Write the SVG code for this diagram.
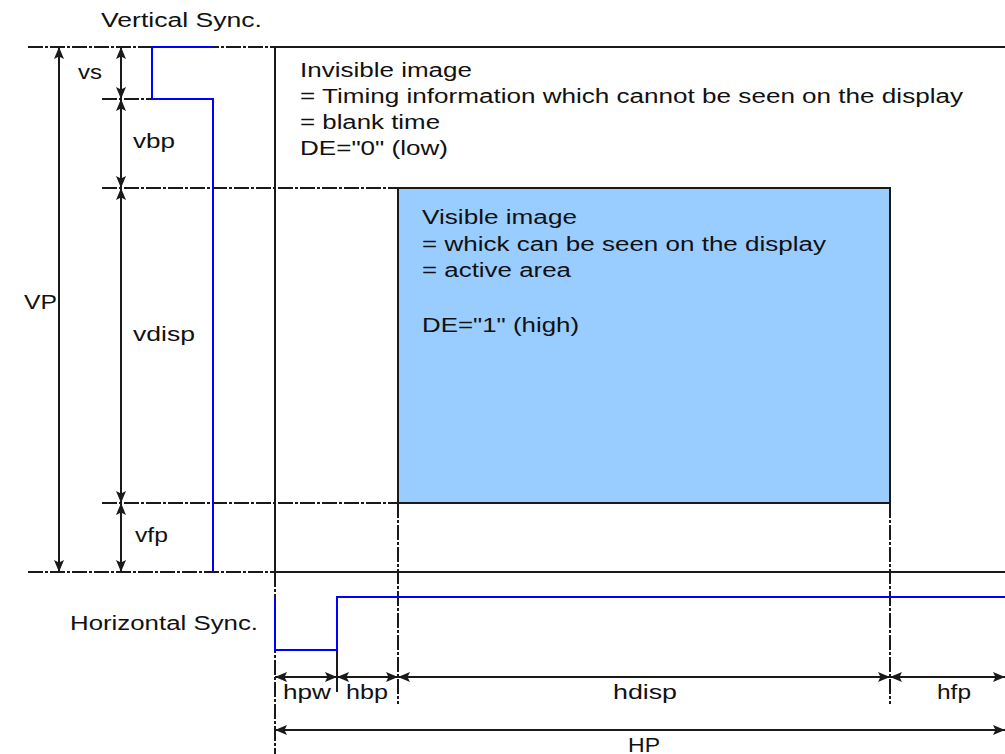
<svg xmlns="http://www.w3.org/2000/svg" width="1005" height="754" viewBox="0 0 1005 754">
<style>
text{font-family:"Liberation Sans",Arial,sans-serif;font-size:20px;fill:#111}
.dd{stroke:#1a1a1a;stroke-width:2;fill:none;stroke-dasharray:15 2 3 2}
.solid{stroke:#1a1a1a;stroke-width:2;fill:none}
.sig{stroke:#0000ff;stroke-width:2;fill:none}
.dim{stroke:#1a1a1a;stroke-width:2;fill:none;marker-start:url(#ah);marker-end:url(#ah)}
</style>
<defs>
<marker id="ah" markerUnits="userSpaceOnUse" markerWidth="12" markerHeight="10" refX="12" refY="5" orient="auto-start-reverse">
<path d="M0,0 L12,5 L0,10 L2.5,5 z" fill="#1a1a1a"/>
</marker>
</defs>
<rect width="1005" height="754" fill="#fff"/>

<g id="active-area">
<rect x="398" y="188" width="492" height="315" fill="#99ccff" stroke="#1a1a1a" stroke-width="2"/>
<text x="422" y="224" textLength="155" lengthAdjust="spacingAndGlyphs">Visible image</text>
<text x="422" y="251" textLength="404" lengthAdjust="spacingAndGlyphs">= whick can be seen on the display</text>
<text x="422" y="277" textLength="149" lengthAdjust="spacingAndGlyphs">= active area</text>
<text x="422" y="332" textLength="157" lengthAdjust="spacingAndGlyphs">DE="1" (high)</text>
</g>

<g id="grid-lines">
<line class="dd" x1="28" y1="47" x2="275" y2="47"/>
<line class="solid" x1="275" y1="47" x2="1005" y2="47"/>
<line class="dd" x1="102" y1="99" x2="152" y2="99"/>
<line class="dd" x1="102" y1="188" x2="398" y2="188"/>
<line class="dd" x1="102" y1="503" x2="398" y2="503"/>
<line class="dd" x1="28" y1="572" x2="275" y2="572"/>
<line class="solid" x1="275" y1="572" x2="1005" y2="572"/>
<line class="solid" x1="275" y1="47" x2="275" y2="572"/>
<line class="dd" x1="275" y1="572" x2="275" y2="754"/>
<line class="dd" x1="398" y1="503" x2="398" y2="704"/>
<line class="dd" x1="890" y1="503" x2="890" y2="704"/>
<line class="solid" x1="337" y1="650" x2="337" y2="692"/>
</g>

<g id="invisible-label">
<text x="300" y="77" textLength="172" lengthAdjust="spacingAndGlyphs">Invisible image</text>
<text x="300" y="103" textLength="663" lengthAdjust="spacingAndGlyphs">= Timing information which cannot be seen on the display</text>
<text x="300" y="129" textLength="140" lengthAdjust="spacingAndGlyphs">= blank time</text>
<text x="300" y="155" textLength="148" lengthAdjust="spacingAndGlyphs">DE="0" (low)</text>
</g>

<g id="vertical-sync">
<text x="101" y="27" textLength="161" lengthAdjust="spacingAndGlyphs">Vertical Sync.</text>
<path class="sig" d="M213,47 H152 V99 H213 V572"/>
</g>

<g id="horizontal-sync">
<text x="70" y="630" textLength="188" lengthAdjust="spacingAndGlyphs">Horizontal Sync.</text>
<path class="sig" d="M275,597 V650 H337 V597 H1005"/>
</g>

<g id="connectors">
<line class="dim" x1="59" y1="47" x2="59" y2="572"/>
<line class="dim" x1="121" y1="47" x2="121" y2="99"/>
<line class="dim" x1="121" y1="99" x2="121" y2="188"/>
<line class="dim" x1="121" y1="188" x2="121" y2="503"/>
<line class="dim" x1="121" y1="503" x2="121" y2="572"/>
<line class="dim" x1="275" y1="677" x2="337" y2="677"/>
<line class="dim" x1="337" y1="677" x2="398" y2="677"/>
<line class="dim" x1="398" y1="677" x2="890" y2="677"/>
<line class="dim" x1="890" y1="677" x2="1005" y2="677"/>
<line class="dim" x1="275" y1="730" x2="1005" y2="730"/>
</g>

<g id="dimension-labels">
<text x="24" y="309" textLength="33" lengthAdjust="spacingAndGlyphs">VP</text>
<text x="78" y="79" textLength="24" lengthAdjust="spacingAndGlyphs">vs</text>
<text x="133" y="148" textLength="42" lengthAdjust="spacingAndGlyphs">vbp</text>
<text x="133" y="341" textLength="62" lengthAdjust="spacingAndGlyphs">vdisp</text>
<text x="135" y="542" textLength="33" lengthAdjust="spacingAndGlyphs">vfp</text>
<text x="283" y="699" textLength="48" lengthAdjust="spacingAndGlyphs">hpw</text>
<text x="346" y="699" textLength="42" lengthAdjust="spacingAndGlyphs">hbp</text>
<text x="613" y="699" textLength="64" lengthAdjust="spacingAndGlyphs">hdisp</text>
<text x="937" y="699" textLength="34" lengthAdjust="spacingAndGlyphs">hfp</text>
<text x="628" y="752" textLength="32" lengthAdjust="spacingAndGlyphs">HP</text>
</g>
</svg>
